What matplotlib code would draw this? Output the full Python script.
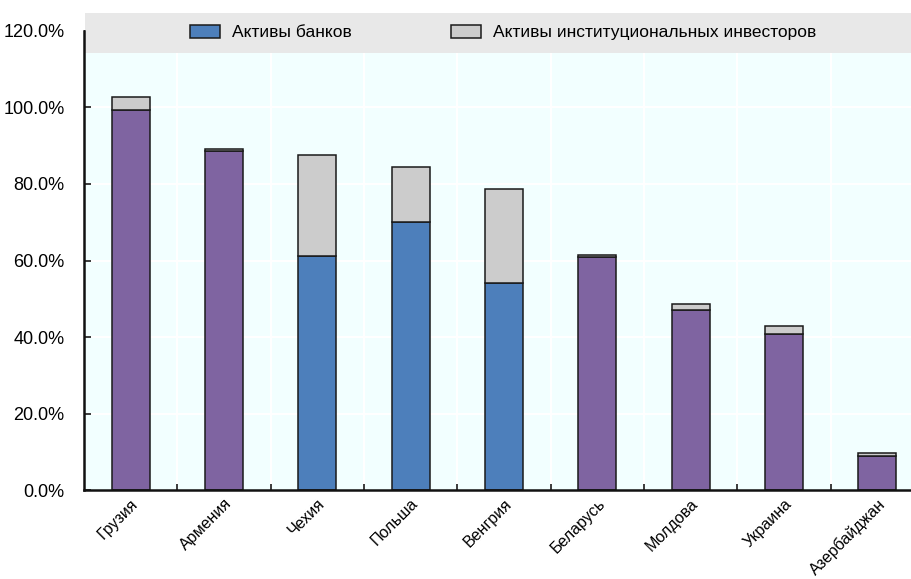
import matplotlib
matplotlib.use("Agg")
import matplotlib.pyplot as plt
import matplotlib.transforms as mtransforms
from matplotlib.patches import Rectangle, Patch
import numpy as np

plt.rcParams['font.family'] = ['Liberation Sans Narrow', 'Liberation Sans', 'DejaVu Sans']

countries = ["Грузия", "Армения", "Чехия", "Польша", "Венгрия",
             "Беларусь", "Молдова", "Украина", "Азербайджан"]
bank_assets = [99.4, 88.6, 61.1, 70.0, 54.2, 61.0, 47.1, 40.9, 8.9]
investor_assets = [3.3, 0.5, 26.5, 14.4, 24.4, 0.5, 1.5, 1.9, 0.9]
# EU members are highlighted in blue, the rest in purple
highlight = [False, False, True, True, True, False, False, False, False]
legend_labels = ["Активы банков", "Активы институциональных инвесторов"]

PURPLE = "#7F64A1"
BLUE = "#4D7FBB"
GREY = "#CCCCCC"
BG = "#F2FFFF"
BAND = "#E8E8E8"
FS = 13
XFS = 11.5
LEG_FS = 12.5

fig = plt.figure(figsize=(9.11, 5.79), dpi=100)
ax = fig.add_axes([84 / 911, 88.7 / 579, 840 / 911, 459.6 / 579])
ax.set_facecolor(BG)

x = np.arange(len(countries))
bar_colors = [BLUE if h else PURPLE for h in highlight]
ax.bar(x, bank_assets, width=0.41, color=bar_colors, edgecolor="#1a1a1a",
       linewidth=1.1, zorder=3)
ax.bar(x, investor_assets, width=0.41, bottom=bank_assets, color=GREY,
       edgecolor="#1a1a1a", linewidth=1.1, zorder=3)

ax.set_xlim(-0.5, len(countries) - 0.5)
ax.set_ylim(0, 120)
ax.set_yticks(np.arange(0, 121, 20))
ax.set_yticklabels([f"{v:.1f}%" for v in np.arange(0, 121, 20)], fontsize=FS)

# Category boundaries: white vertical grid and small inward ticks
bounds = np.arange(0.5, len(countries) - 0.5, 1.0)
ax.set_xticks(bounds, minor=True)
ax.set_xticks(x)
ax.set_xticklabels(countries, fontsize=XFS, rotation=45, ha="right", va="top",
                   rotation_mode="anchor")
offset = mtransforms.ScaledTranslation(3 / 100, 2 / 100, fig.dpi_scale_trans)
for lbl in ax.get_xticklabels():
    lbl.set_transform(lbl.get_transform() + offset)

ax.tick_params(axis="x", which="major", length=0, pad=4)
ax.tick_params(axis="x", which="minor", direction="in", length=4, width=1.2,
               color="#1a1a1a")
ax.tick_params(axis="y", direction="in", length=5, width=1.2, pad=14,
               color="#1a1a1a")

for v in np.arange(20, 121, 20):
    ax.axhline(v, color="white", linewidth=1.5, zorder=1)
for b in bounds:
    ax.axvline(b, color="white", linewidth=1.5, zorder=1)

for side in ("top", "right"):
    ax.spines[side].set_visible(False)
for side in ("left", "bottom"):
    ax.spines[side].set_linewidth(1.8)
    ax.spines[side].set_color("#111111")
    ax.spines[side].set_zorder(5)

# Grey band behind the legend
band = Rectangle((85 / 911, 1 - 52.7 / 579), 1, 40 / 579,
                 transform=fig.transFigure, facecolor=BAND, edgecolor="none",
                 zorder=2, clip_on=False)
ax.add_artist(band)

handles = [Patch(facecolor=BLUE, edgecolor="#1a1a1a", linewidth=1.1),
           Patch(facecolor=GREY, edgecolor="#1a1a1a", linewidth=1.1)]
leg_y = 1 - 32.5 / 579
for h, lab, xpos in zip(handles, legend_labels, (190 / 911, 451 / 911)):
    fig.legend([h], [lab], loc="center left", bbox_to_anchor=(xpos, leg_y),
               frameon=False, fontsize=LEG_FS, borderpad=0, borderaxespad=0,
               handlelength=30 / 17.4, handleheight=15 / 17.4,
               handletextpad=0.7)

fig.savefig("out.png", dpi=100, facecolor="white")
